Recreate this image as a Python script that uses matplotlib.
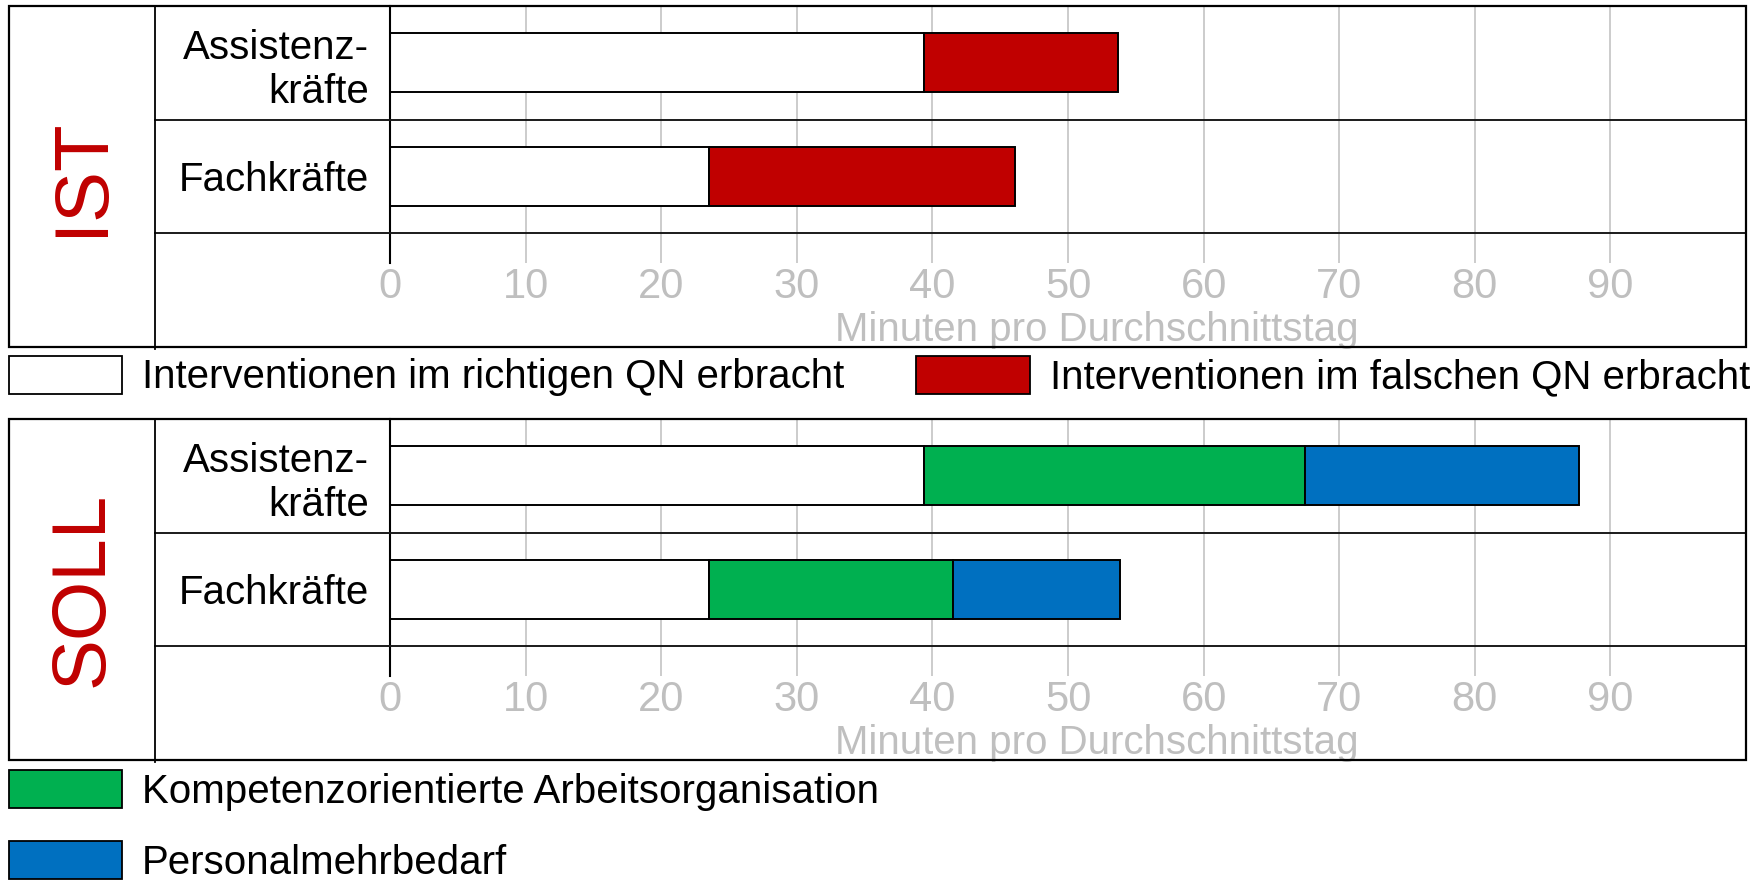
import matplotlib
matplotlib.use('Agg')
import matplotlib.pyplot as plt
from matplotlib.patches import Rectangle, Patch
from matplotlib.lines import Line2D
import matplotlib.transforms as mtransforms

plt.rcParams['font.family'] = ['Liberation Sans', 'DejaVu Sans']

# ---------------- data ----------------
categories = ['Assistenz-\nkräfte', 'Fachkräfte']
ist_richtig = [39.4, 23.5]
ist_falsch = [14.3, 22.6]
soll_richtig = [39.4, 23.5]
soll_kompetenz = [28.1, 18.0]
soll_mehrbedarf = [20.2, 12.3]
x_ticks = [0, 10, 20, 30, 40, 50, 60, 70, 80, 90]
panel_labels = ['IST', 'SOLL']
legend_top = ['Interventionen im richtigen QN erbracht',
              'Interventionen im falschen QN erbracht']
legend_bottom = ['Kompetenzorientierte Arbeitsorganisation',
                 'Personalmehrbedarf']
x_label = 'Minuten pro Durchschnittstag'

# ---------------- style ----------------
c_white = '#FFFFFF'
c_red = '#C00000'
c_green = '#00B050'
c_blue = '#0070C0'
c_gray = '#BFBFBF'
FS = 29
FS_TICK = 30

W, H = 1761, 880
fig = plt.figure(figsize=(W / 100, H / 100), dpi=100)

AX_L, AX_R = 390, 1746
BOX_L, DIV_X = 8.5, 155


def panel(box_top, box_bot, grid_end, series, colors, label):
    slot = (box_bot - box_top) / 3.0
    ax = fig.add_axes([AX_L / W, 1 - grid_end / H, (AX_R - AX_L) / W,
                       (grid_end - box_top) / H])
    ybot = -0.5 + (grid_end - box_top) / slot
    ax.set_xlim(0, 100)
    ax.set_ylim(ybot, -0.5)
    ax.vlines(x_ticks[1:], -0.5, ybot, colors=c_gray, lw=1.1, zorder=0)
    n = len(categories)
    left = [0.0] * n
    for vals, c in zip(series, colors):
        ax.barh(range(n), vals, left=left, height=0.52, color=c,
                edgecolor='black', linewidth=1.4, zorder=2)
        left = [l + v for l, v in zip(left, vals)]
    for s in ['top', 'right', 'bottom']:
        ax.spines[s].set_visible(False)
    ax.spines['left'].set_linewidth(1.5)
    ax.spines['left'].set_color('black')
    ax.spines['left'].set_zorder(3)
    ax.set_xticks(x_ticks, [str(t) for t in x_ticks])
    ax.tick_params(axis='x', length=0, pad=3, labelsize=FS_TICK, labelcolor=c_gray)
    ax.set_yticks(range(n), categories)
    ax.tick_params(axis='y', length=0, pad=15, labelsize=FS, labelcolor='black')
    for t in ax.get_yticklabels():
        t.set_multialignment('right')
    ax.set_xlabel(x_label, fontsize=FS, color=c_gray)
    ax.xaxis.set_label_coords((1097 - AX_L) / (AX_R - AX_L),
                              -48.0 / (grid_end - box_top))
    ax.patch.set_alpha(0)

    # row separators
    tr = mtransforms.blended_transform_factory(fig.transFigure, ax.transData)
    for yy in [0.5, 1.5]:
        fig.add_artist(Line2D([DIV_X / W, AX_R / W], [yy, yy], transform=tr,
                              color='#1a1a1a', lw=1.4, zorder=4))
    # outer box and divider
    fig.add_artist(Rectangle((BOX_L / W, 1 - box_bot / H), (AX_R - BOX_L) / W,
                             (box_bot - box_top) / H, transform=fig.transFigure,
                             fill=False, ec='black', lw=1.6, zorder=5))
    fig.add_artist(Line2D([DIV_X / W, DIV_X / W], [1 - box_top / H, 1 - (box_bot + 2) / H],
                          transform=fig.transFigure, color='black', lw=1.3, zorder=5))
    fig.text(83 / W, 1 - (box_top + box_bot) / 2 / H, label, rotation=90,
             fontsize=55, color=c_red, ha='center', va='center')
    return ax


ax1 = panel(6, 346.7, 263, [ist_richtig, ist_falsch], [c_white, c_red], panel_labels[0])
ax2 = panel(419, 760, 676, [soll_richtig, soll_kompetenz, soll_mehrbedarf],
            [c_white, c_green, c_blue], panel_labels[1])

h_top = [Patch(facecolor=c_white, edgecolor='black', linewidth=1.3),
         Patch(facecolor=c_red, edgecolor='black', linewidth=1.3)]
fig.legend(h_top, legend_top, loc='center left', bbox_to_anchor=(BOX_L / W, 1 - 376 / H),
           ncol=2, frameon=False, fontsize=FS, handlelength=2.83, handleheight=1.09,
           handletextpad=0.49, columnspacing=1.78, borderpad=0, borderaxespad=0)

h_bot = [Patch(facecolor=c_green, edgecolor='black', linewidth=1.3),
         Patch(facecolor=c_blue, edgecolor='black', linewidth=1.3)]
fig.legend(h_bot, legend_bottom, loc='upper left', bbox_to_anchor=(BOX_L / W, 1 - 770 / H),
           ncol=1, frameon=False, fontsize=FS, handlelength=2.83, handleheight=1.09,
           handletextpad=0.49, labelspacing=0.74, borderpad=0, borderaxespad=0)

fig.savefig('out.png', dpi=100)
